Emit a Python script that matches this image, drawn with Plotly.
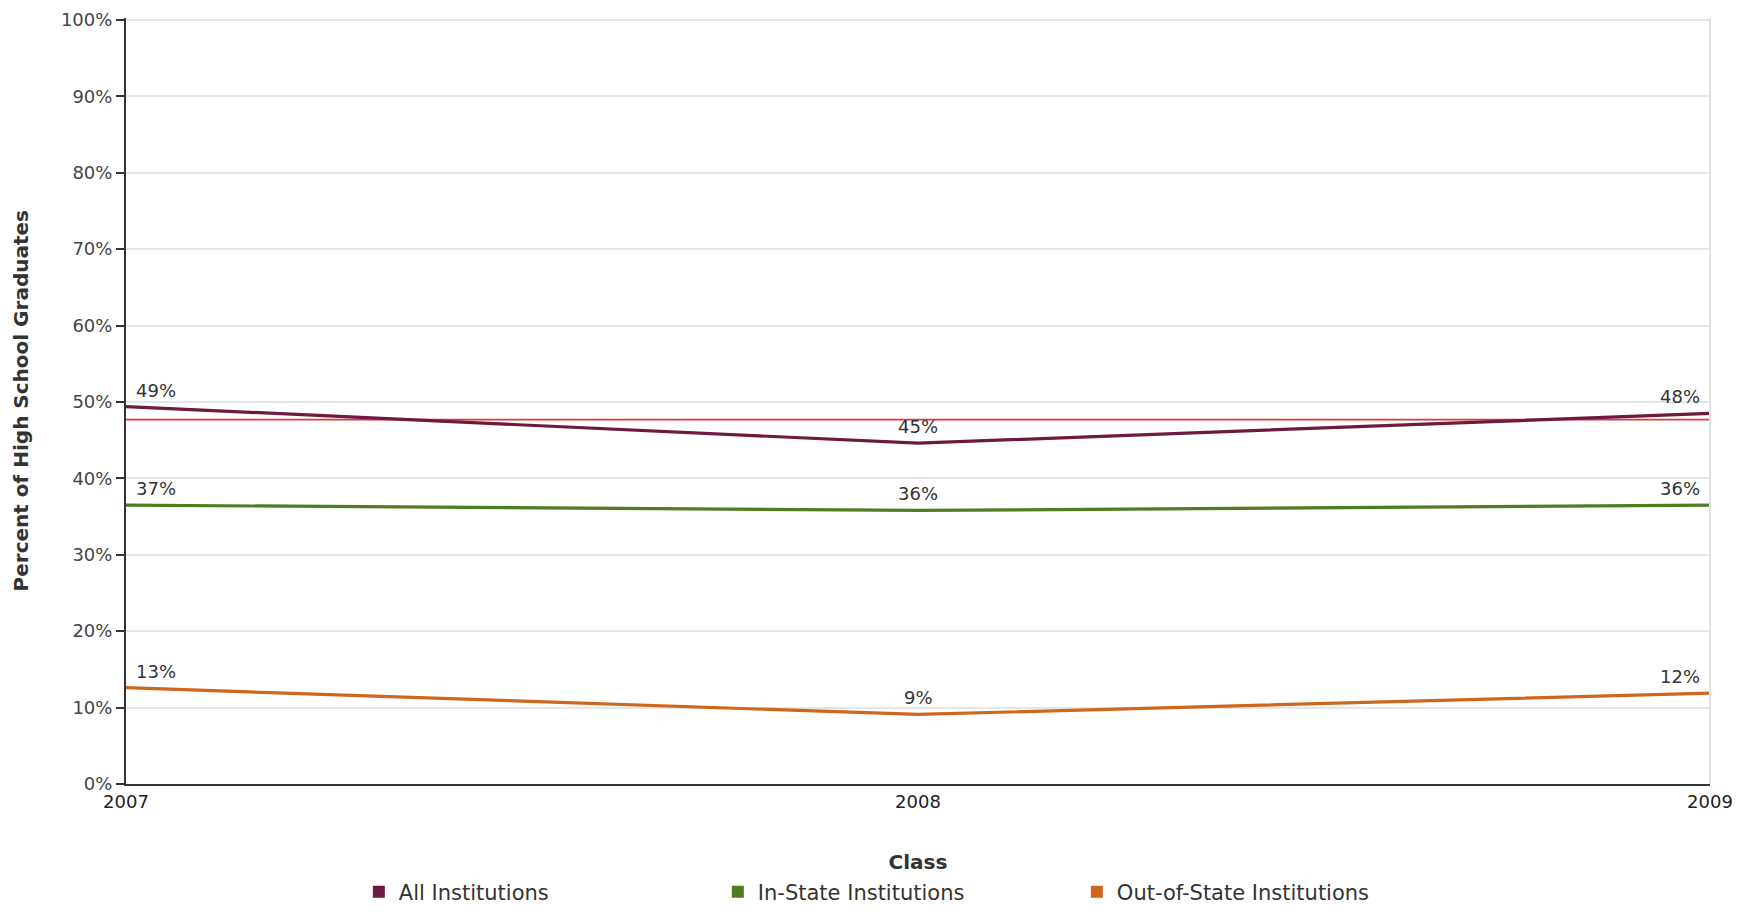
import plotly.graph_objects as go

classes = [2007, 2008, 2009]
all_inst = [49.4, 44.6, 48.5]
in_state = [36.5, 35.8, 36.5]
out_state = [12.6, 9.1, 11.9]
all_labels = ["49%", "45%", "48%"]
in_labels = ["37%", "36%", "36%"]
out_labels = ["13%", "9%", "12%"]
reference_line = [47.7, 47.7, 47.7]
y_ticks = [0, 10, 20, 30, 40, 50, 60, 70, 80, 90, 100]

series = [
    ("All Institutions", all_inst, all_labels, "#6e1a40"),
    ("In-State Institutions", in_state, in_labels, "#4e7d21"),
    ("Out-of-State Institutions", out_state, out_labels, "#d0661c"),
]

FONT = "DejaVu Sans, sans-serif"
fig = go.Figure()

fig.add_trace(go.Scatter(x=classes, y=reference_line, mode="lines",
                         line=dict(color="#e0383f", width=1.8),
                         showlegend=False, hoverinfo="skip"))

anchors = ["left", "center", "right"]
for name, vals, labels, color in series:
    fig.add_trace(go.Scatter(x=classes, y=vals, mode="lines",
                             line=dict(color=color, width=3.2),
                             showlegend=False, name=name))
    fig.add_trace(go.Scatter(x=[None], y=[None], mode="markers",
                             marker=dict(symbol="square", size=14, color=color),
                             name=name, showlegend=True))
    for xv, yv, lab, anc in zip(classes, vals, labels, anchors):
        fig.add_annotation(x=xv, y=yv, text=lab, showarrow=False,
                           xanchor=anc, yanchor="bottom", yshift=4,
                           xshift=8 if anc == "left" else (-8 if anc == "right" else 0),
                           font=dict(family=FONT, size=18, color="#333333"))

fig.add_shape(type="line", xref="paper", yref="paper", x0=1, x1=1, y0=0, y1=1,
              line=dict(color="#e2e2e2", width=2))

# y-axis title as a rotated annotation
fig.add_annotation(text="<b>Percent of High School Graduates</b>", textangle=-90,
                   xref="paper", yref="paper", x=-0.066, y=0.5,
                   xanchor="center", yanchor="middle", showarrow=False,
                   font=dict(family=FONT, size=20, color="#333333"))

# page body has an 8px margin: figure sized to fit the 1743x914 window exactly
fig.update_layout(
    width=1727, height=898,
    margin=dict(l=118, r=25, t=10, b=122, autoexpand=False),
    plot_bgcolor="white", paper_bgcolor="white",
    font=dict(family=FONT),
    legend=dict(orientation="h", x=0.147, xanchor="left", y=-0.141, yanchor="middle",
                entrywidth=314, entrywidthmode="pixels",
                font=dict(family=FONT, size=21, color="#333333"),
                itemsizing="constant"),
)
fig.update_xaxes(range=[2007, 2009], tickvals=classes, ticktext=[str(c) for c in classes],
                 showgrid=False, showline=True, linecolor="#333333", linewidth=2,
                 ticks="", tickfont=dict(family=FONT, size=18, color="#222222"),
                 title=dict(text="<b>Class</b>", standoff=44,
                            font=dict(family=FONT, size=20, color="#333333")),
                 zeroline=False)
fig.update_yaxes(range=[0, 100.25], tickvals=y_ticks, ticktext=[f"{t}%" for t in y_ticks],
                 showgrid=True, gridcolor="#e6e6e6", gridwidth=2,
                 showline=True, linecolor="#333333", linewidth=2,
                 ticks="outside", ticklen=8, tickwidth=2, tickcolor="#333333",
                 ticklabeloverflow="allow",
                 tickfont=dict(family=FONT, size=18, color="#444444"),
                 zeroline=False)

fig.write_html("out.html")
